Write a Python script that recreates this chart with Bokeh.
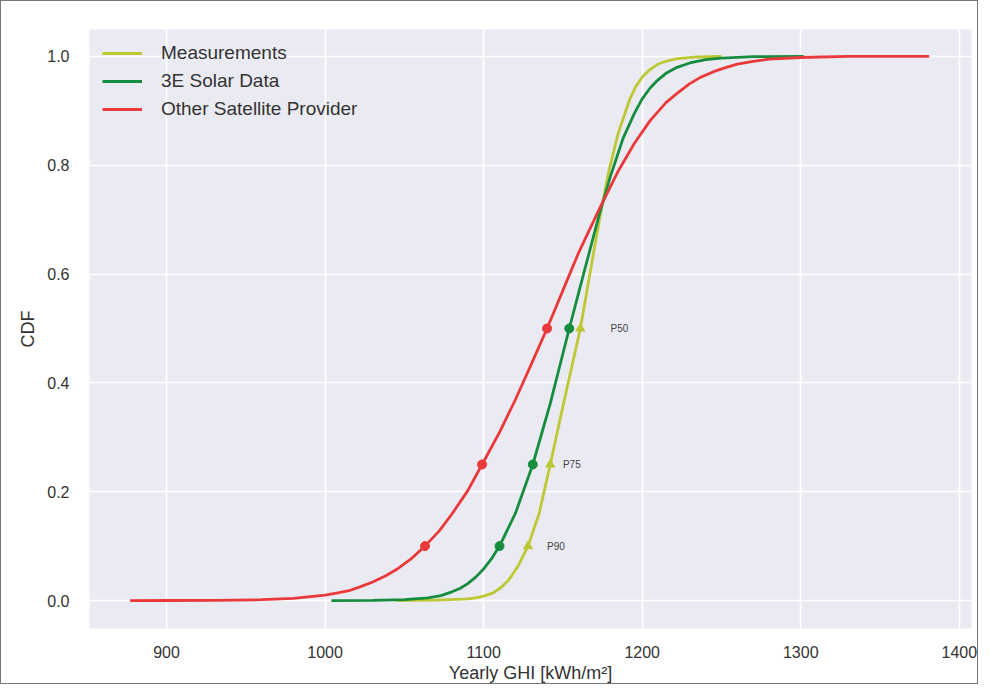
from bokeh.plotting import figure
from bokeh.models import Range1d, FixedTicker, Legend, LegendItem, ColumnDataSource
from bokeh.core.properties import value
from bokeh.embed import file_html
from bokeh.resources import INLINE

# ---- data ----
red_x = [877, 900, 930, 960, 980, 1000, 1008, 1015, 1022, 1030, 1038, 1045, 1054, 1063, 1072,
         1080, 1090, 1099, 1110, 1120, 1130, 1140, 1150, 1160, 1173, 1185, 1195, 1205, 1215,
         1222, 1230, 1237, 1245, 1252, 1260, 1270, 1280, 1300, 1330, 1381]
red_y = [0.0, 0.0001, 0.0003, 0.0015, 0.004, 0.010, 0.014, 0.018, 0.025, 0.034, 0.045, 0.057,
         0.076, 0.100, 0.128, 0.159, 0.202, 0.250, 0.309, 0.369, 0.434, 0.500, 0.570, 0.640,
         0.720, 0.790, 0.840, 0.882, 0.915, 0.932, 0.950, 0.962, 0.972, 0.979, 0.986, 0.991,
         0.995, 0.998, 1.0, 1.0]

green_x = [1004, 1030, 1050, 1065, 1073, 1080, 1085, 1090, 1095, 1100, 1105, 1110, 1120, 1131,
           1142, 1154, 1163, 1173, 1180, 1188, 1195, 1200, 1205, 1210, 1215, 1222, 1230, 1240,
           1250, 1270, 1302]
green_y = [0.0, 0.0003, 0.0015, 0.005, 0.009, 0.016, 0.022, 0.031, 0.043, 0.058, 0.077, 0.100,
           0.160, 0.250, 0.362, 0.500, 0.600, 0.710, 0.780, 0.850, 0.895, 0.922, 0.942, 0.957,
           0.969, 0.980, 0.988, 0.994, 0.997, 0.9995, 1.0]

yellow_x = [1045, 1070, 1090, 1095, 1100, 1106, 1111, 1116, 1122, 1128, 1135, 1142, 1151, 1161,
            1167, 1173, 1179, 1185, 1192, 1196, 1200, 1205, 1210, 1216, 1222, 1235, 1250]
yellow_y = [0.0, 0.0008, 0.003, 0.005, 0.008, 0.014, 0.024, 0.038, 0.065, 0.100, 0.160, 0.250,
            0.370, 0.500, 0.600, 0.700, 0.790, 0.860, 0.920, 0.945, 0.962, 0.976, 0.986, 0.992,
            0.996, 0.999, 1.0]

p_levels = [0.10, 0.25, 0.50]
p_names = ["P90", "P75", "P50"]
red_p = [1063, 1099, 1140]
green_p = [1110, 1131, 1154]
yellow_p = [1128, 1142, 1161]
label_x = [1140, 1150, 1180]

x_ticks = [900, 1000, 1100, 1200, 1300, 1400]
y_ticks = [0.0, 0.2, 0.4, 0.6, 0.8, 1.0]

series_names = ["Measurements", "3E Solar Data", "Other Satellite Provider"]
C_YEL = "#BCC834"
C_GRN = "#168C3E"
C_RED = "#E9393B"

FONT = "Liberation Sans"

p = figure(width=978, height=684, output_backend="svg", toolbar_location=None,
           x_range=Range1d(851.4, 1407.7), y_range=Range1d(-0.0514, 1.0495),
           min_border_left=88, min_border_right=8, min_border_top=28, min_border_bottom=56)
p.styles = {"border": "1px solid #777777"}
p.background_fill_color = "#EAEAF2"
p.border_fill_color = "white"
p.outline_line_color = None

p.xgrid.grid_line_color = "white"
p.ygrid.grid_line_color = "white"
p.xgrid.grid_line_width = 1.6
p.ygrid.grid_line_width = 1.6

for ax in (p.xaxis[0], p.yaxis[0]):
    ax.axis_line_color = None
    ax.major_tick_line_color = None
    ax.minor_tick_line_color = None
    ax.major_label_text_font = FONT
    ax.major_label_text_font_size = "16px"
    ax.major_label_text_color = "#333333"
    ax.axis_label_text_font = FONT
    ax.axis_label_text_font_size = "18px"
    ax.axis_label_text_font_style = "normal"
    ax.axis_label_text_color = "#333333"

p.xaxis.ticker = FixedTicker(ticks=x_ticks)
p.yaxis.ticker = FixedTicker(ticks=y_ticks)
p.yaxis.major_label_overrides = {t: f"{t:.1f}" for t in y_ticks}
p.xaxis.major_label_standoff = 11
p.yaxis.major_label_standoff = 14
p.xaxis.axis_label = "Yearly GHI [kWh/m\u00b2]"
p.yaxis.axis_label = "CDF"
p.xaxis.axis_label_standoff = 2
p.yaxis.axis_label_standoff = 6

r_yel = p.line(yellow_x, yellow_y, line_color=C_YEL, line_width=2.8)
r_grn = p.line(green_x, green_y, line_color=C_GRN, line_width=2.8)
r_red = p.line(red_x, red_y, line_color=C_RED, line_width=2.8)

p.scatter(red_p, p_levels, marker="circle", size=9, color=C_RED)
p.scatter(green_p, p_levels, marker="circle", size=9, color=C_GRN)
p.scatter(yellow_p, p_levels, marker="triangle", size=9, color=C_YEL)

src = ColumnDataSource(dict(x=label_x, y=p_levels, t=p_names))
p.text(x="x", y="y", text="t", source=src, text_font=value(FONT), text_font_size="10px",
       text_color="#444444", text_baseline="middle", text_align="left")

legend = Legend(items=[LegendItem(label=series_names[0], renderers=[r_yel]),
                       LegendItem(label=series_names[1], renderers=[r_grn]),
                       LegendItem(label=series_names[2], renderers=[r_red])],
                location="top_left")
legend.background_fill_alpha = 0
legend.border_line_color = None
legend.label_text_font = FONT
legend.label_text_font_size = "19px"
legend.label_text_color = "#333333"
legend.glyph_width = 40
legend.label_standoff = 19
legend.spacing = 6
legend.label_height = 22
legend.glyph_height = 22
legend.padding = 4
legend.margin = 13
p.add_layout(legend)

open("out.html", "w").write(file_html(p, INLINE))
